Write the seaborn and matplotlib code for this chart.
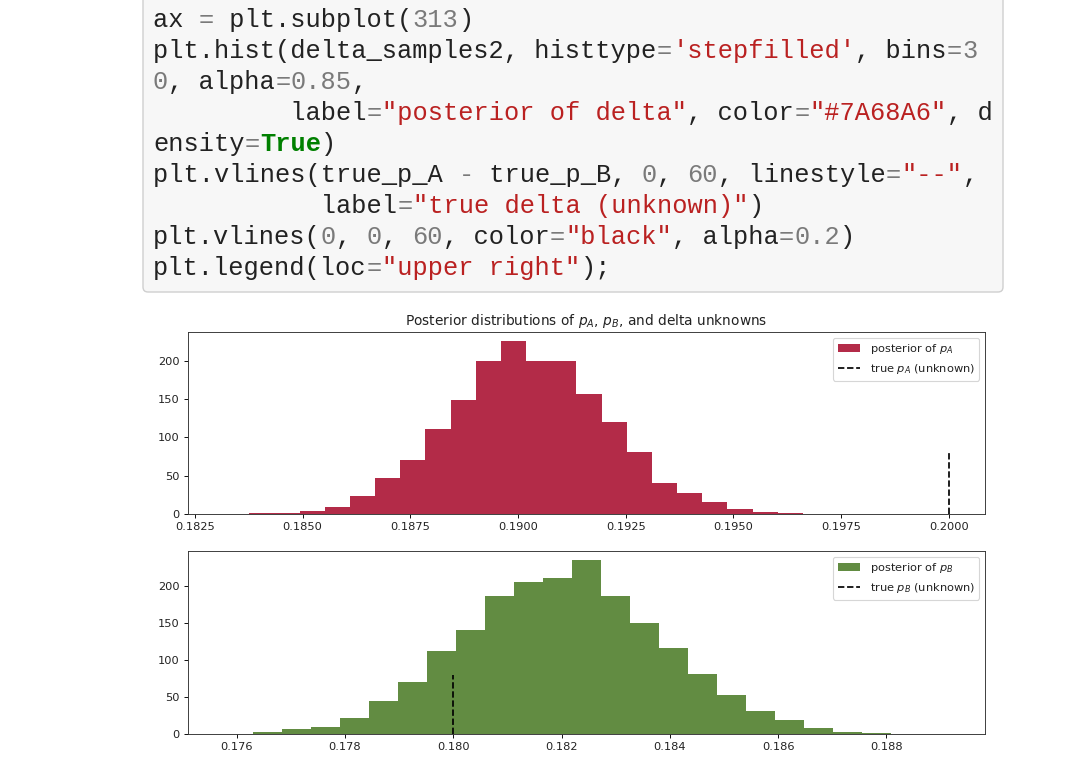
import numpy as np
import pandas as pd
import matplotlib
matplotlib.use("Agg")
import matplotlib.pyplot as plt
from matplotlib.patches import FancyBboxPatch
import seaborn as sns

# ---------------- data ----------------
# code cell (segments: text, style)
code_lines = [
    [("ax ", "n"), ("=", "op"), (" plt.subplot(", "n"), ("313", "num"), (")", "n")],
    [("plt.hist(delta_samples2, histtype", "n"), ("=", "op"), ("'stepfilled'", "s"),
     (", bins", "n"), ("=", "op"), ("3", "num")],
    [("0", "num"), (", alpha", "n"), ("=", "op"), ("0.85", "num"), (",", "n")],
    [("         label", "n"), ("=", "op"), ('"posterior of delta"', "s"), (", color", "n"),
     ("=", "op"), ('"#7A68A6"', "s"), (", d", "n")],
    [("ensity", "n"), ("=", "op"), ("True", "kw"), (")", "n")],
    [("plt.vlines(true_p_A ", "n"), ("-", "op"), (" true_p_B, ", "n"), ("0", "num"), (", ", "n"),
     ("60", "num"), (", linestyle", "n"), ("=", "op"), ('"--"', "s"), (",", "n")],
    [("           label", "n"), ("=", "op"), ('"true delta (unknown)"', "s"), (")", "n")],
    [("plt.vlines(", "n"), ("0", "num"), (", ", "n"), ("0", "num"), (", ", "n"), ("60", "num"),
     (", color", "n"), ("=", "op"), ('"black"', "s"), (", alpha", "n"), ("=", "op"),
     ("0.2", "num"), (")", "n")],
    [("plt.legend(loc", "n"), ("=", "op"), ('"upper right"', "s"), (");", "n")],
]

title = "Posterior distributions of $p_A$, $p_B$, and delta unknowns"

# posterior of p_A : histogram range and densities of the 25 bins
pA_range = (0.18318, 0.19778)
pA_density = [0.1, 1, 1, 4, 9.5, 24, 47, 71, 111, 148, 200, 226, 199, 199, 156,
              120, 81, 41, 28, 16, 6, 2.5, 1, 0.1, 0.1]
true_p_A = 0.2
label_A = "posterior of $p_A$"
vlabel_A = "true $p_A$ (unknown)"

# posterior of p_B
pB_range = (0.17577, 0.18915)
pB_density = [0.1, 3, 7, 10, 22, 44, 70, 112, 140, 186, 205, 210, 235, 186, 150,
              116, 81, 52, 31.5, 19, 8, 3, 1.8, 0.1, 0.1]
true_p_B = 0.18
label_B = "posterior of $p_B$"
vlabel_B = "true $p_B$ (unknown)"

vline_top = 80

# ---------------- styling ----------------
S = 82.3 / 100.0  # scale of original figure
plt.rcParams.update({
    "font.family": ["DejaVu Sans"],
    "font.size": 10 * S,
    "text.color": "#222222",
    "xtick.labelcolor": "#222222", "ytick.labelcolor": "#222222",
    "axes.edgecolor": "#333333",
    "axes.linewidth": 0.8 * S,
    "xtick.major.size": 3.5 * S, "ytick.major.size": 3.5 * S,
    "xtick.major.width": 0.8 * S, "ytick.major.width": 0.8 * S,
    "xtick.major.pad": 3.5 * S, "ytick.major.pad": 3.5 * S,
    "xtick.labelsize": 10 * S, "ytick.labelsize": 10 * S,
    "legend.fontsize": 10 * S,
    "patch.linewidth": 1.0 * S,
    "axes.titlesize": 12 * S,
    "axes.titlepad": 6 * S,
})

W, H = 1080, 763
fig = plt.figure(figsize=(W / 100, H / 100), dpi=100)
fig.patch.set_facecolor("white")

# background layer for the code cell (pixel coordinates)
bg = fig.add_axes([0, 0, 1, 1])
bg.set_xlim(0, W)
bg.set_ylim(H, 0)
bg.axis("off")
box = FancyBboxPatch((143, -20), 1003 - 143, 292 - (-20),
                     boxstyle="round,pad=0,rounding_size=5",
                     facecolor="#f7f7f7", edgecolor="#cfcfcf", linewidth=1.0)
bg.add_patch(box)

colors = {"n": "#222222", "op": "#7a7a7a", "num": "#7a7a7a",
          "s": "#BA2121", "kw": "#008000"}
x0, cw = 153, 15.27
base0, dy = 27, 30.95
for i, segs in enumerate(code_lines):
    col = 0
    for txt, st in segs:
        bg.text(x0 + col * cw, base0 + i * dy, txt,
                fontfamily="Liberation Mono", fontsize=18.3,
                color=colors[st], fontweight="bold" if st == "kw" else "normal",
                va="baseline", ha="left")
        col += len(txt)


def px_axes(l, t, r, b):
    return fig.add_axes([l / W, 1 - b / H, (r - l) / W, (b - t) / H])


def panel(ax, rng, dens, color, truth, lab, vlab):
    edges = np.linspace(rng[0], rng[1], len(dens) + 1)
    df = pd.DataFrame({"x": (edges[:-1] + edges[1:]) / 2, "w": dens})
    sns.histplot(data=df, x="x", weights="w", bins=list(edges), element="step",
                 fill=True, color=color, alpha=0.85, linewidth=0, label=lab, ax=ax)
    ax.vlines(truth, 0, vline_top, linestyles="--", colors="black",
              linewidth=1.5 * S, label=vlab)
    lo, hi = min(rng[0], truth), max(rng[1], truth)
    pad = 0.05 * (hi - lo)
    ax.set_xlim(lo - pad, hi + pad)
    ax.set_ylim(0, max(dens) * 1.05)
    ax.set_ylabel("")
    ax.set_xlabel("")
    ax.legend(loc="upper right")


ax1 = px_axes(188, 332, 985, 514)
panel(ax1, pA_range, pA_density, "#A60628", true_p_A, label_A, vlabel_A)
ax1.set_title(title)

ax2 = px_axes(188, 551, 985, 734)
panel(ax2, pB_range, pB_density, "#467821", true_p_B, label_B, vlabel_B)

fig.savefig("out.png", dpi=100, facecolor="white")
